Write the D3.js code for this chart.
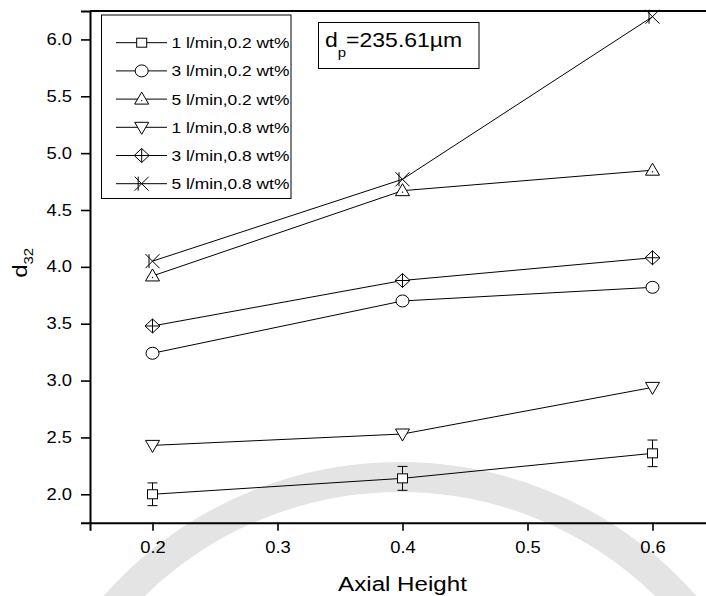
<!DOCTYPE html>
<html>
<head>
<meta charset="utf-8">
<script src="https://cdn.jsdelivr.net/npm/d3@7"></script>
<style>
  html, body { margin: 0; padding: 0; background: #fff; }
  svg { display: block; }
  text { font-family: "Liberation Sans", Arial, sans-serif; fill: #000; }
</style>
</head>
<body>
<svg id="chart" width="706" height="596"></svg>
<script>
// Sauter mean diameter d32 against axial height, particle size 235.61 µm
const axialHeights = [0.2, 0.4, 0.6];
const seriesLabels = [
  "1 l/min,0.2 wt%", "3 l/min,0.2 wt%", "5 l/min,0.2 wt%",
  "1 l/min,0.8 wt%", "3 l/min,0.8 wt%", "5 l/min,0.8 wt%"
];
const d32_1lpm_02 = [2.00, 2.14, 2.36];
const err_1lpm_02 = [0.10, 0.105, 0.117];
const d32_3lpm_02 = [3.24, 3.70, 3.82];
const d32_5lpm_02 = [3.92, 4.67, 4.85];
const d32_1lpm_08 = [2.43, 2.53, 2.94];
const d32_3lpm_08 = [3.48, 3.88, 4.08];
const d32_5lpm_08 = [4.05, 4.77, 6.20];
const xTicks = [0.2, 0.3, 0.4, 0.5, 0.6];
const xMinorTicks = [0.15, 0.25, 0.35, 0.45, 0.55, 0.65];
const yTicks = [2.0, 2.5, 3.0, 3.5, 4.0, 4.5, 5.0, 5.5, 6.0];
const yMinorTicks = [2.25, 2.75, 3.25, 3.75, 4.25, 4.75, 5.25, 5.75];

const seriesValues = [d32_1lpm_02, d32_3lpm_02, d32_5lpm_02, d32_1lpm_08, d32_3lpm_08, d32_5lpm_08];
const seriesSymbols = ["square", "circle", "up", "down", "diamond", "cross"];

const svg = d3.select("#chart");
const stretch = 1.15; // glyphs in this figure are slightly wide

const x = d3.scaleLinear().domain([0.15, 0.65]).range([90, 715]);
const y = d3.scaleLinear().domain([1.75, 6.25]).range([522.7, 11]);

// faint emblem arc in the background
svg.append("circle")
  .attr("cx", 400).attr("cy", 857).attr("r", 380)
  .attr("fill", "none").attr("stroke", "#e4e4e4").attr("stroke-width", 30);

// axes
const gx = svg.append("g").attr("transform", `translate(0,${y.range()[0]})`);
gx.call(d3.axisBottom(x).tickValues(xMinorTicks).tickSize(5).tickFormat(""));
gx.call(d3.axisBottom(x).tickValues(xTicks).tickSize(8).tickPadding(11).tickFormat(d3.format(".1f")));
const gy = svg.append("g").attr("transform", `translate(${x.range()[0]},0)`);
gy.call(d3.axisLeft(y).tickValues(yMinorTicks).tickSize(5).tickFormat(""));
gy.call(d3.axisLeft(y).tickValues(yTicks).tickSize(9).tickPadding(9).tickFormat(d3.format(".1f")));
[gx, gy].forEach(g => {
  g.selectAll(".domain").attr("stroke-width", 2).attr("stroke", "#000");
  g.selectAll(".tick line").attr("stroke-width", 1.6).attr("stroke", "#000");
  g.selectAll(".tick text").attr("font-size", 16).attr("fill", "#000")
    .style("font-family", '"Liberation Sans", Arial, sans-serif');
});
gx.selectAll(".tick text").attr("transform", `scale(${stretch},1)`);
gy.selectAll(".tick text").each(function () {
  const t = d3.select(this);
  t.attr("x", +t.attr("x") / stretch).attr("transform", `scale(${stretch},1)`);
});
// top frame line
svg.append("line")
  .attr("x1", x.range()[0]).attr("x2", x.range()[1])
  .attr("y1", y.range()[1]).attr("y2", y.range()[1])
  .attr("stroke", "#000").attr("stroke-width", 2);

// axis titles
svg.append("text")
  .attr("transform", `translate(${(x.range()[0] + x.range()[1]) / 2},591) scale(${stretch},1)`)
  .attr("text-anchor", "middle").attr("font-size", 21).text("Axial Height");
const yTitle = svg.append("text")
  .attr("transform", `translate(27,${(y.range()[0] + y.range()[1]) / 2 - 4}) rotate(-90) scale(${stretch},1)`)
  .attr("text-anchor", "middle").attr("font-size", 21);
yTitle.append("tspan").text("d");
yTitle.append("tspan").attr("font-size", 13).attr("dy", 6).text("32");

// marker shapes
function marker(g, type, cx, cy) {
  const common = s => s.attr("fill", "#fff").attr("stroke", "#000").attr("stroke-width", 1);
  if (type === "square") {
    common(g.append("rect").attr("x", cx - 5).attr("y", cy - 4.5).attr("width", 10).attr("height", 9));
  } else if (type === "circle") {
    common(g.append("ellipse").attr("cx", cx).attr("cy", cy).attr("rx", 6.5).attr("ry", 6));
  } else if (type === "up") {
    common(g.append("path").attr("d", `M${cx - 7},${cy + 5}L${cx + 7},${cy + 5}L${cx},${cy - 7}Z`));
    g.append("circle").attr("cx", cx).attr("cy", cy + 1.5).attr("r", 0.7).attr("fill", "#000");
  } else if (type === "down") {
    common(g.append("path").attr("d", `M${cx - 7},${cy - 5}L${cx + 7},${cy - 5}L${cx},${cy + 7}Z`));
  } else if (type === "diamond") {
    common(g.append("path").attr("d", `M${cx},${cy - 7}L${cx + 7.5},${cy}L${cx},${cy + 7}L${cx - 7.5},${cy}Z`));
    g.append("path").attr("d", `M${cx - 7.5},${cy}H${cx + 7.5}M${cx},${cy - 7}V${cy + 7}`)
      .attr("stroke", "#000").attr("stroke-width", 1).attr("fill", "none");
  } else if (type === "cross") {
    g.append("path")
      .attr("d", `M${cx - 7},${cy - 7}L${cx + 7},${cy + 7}M${cx + 7},${cy - 7}L${cx - 7},${cy + 7}M${cx - 3.5},${cy - 7}V${cy + 7}`)
      .attr("stroke", "#000").attr("stroke-width", 1).attr("fill", "none");
  }
}

const plot = svg.append("g");
const line = d3.line().x((d, i) => x(axialHeights[i])).y(d => y(d));
seriesValues.forEach(vals => {
  plot.append("path").attr("d", line(vals))
    .attr("fill", "none").attr("stroke", "#000").attr("stroke-width", 1);
});
// error bars on the 1 l/min, 0.2 wt% series
d32_1lpm_02.forEach((v, i) => {
  const cx = x(axialHeights[i]);
  const lo = y(v - err_1lpm_02[i]), hi = y(v + err_1lpm_02[i]);
  plot.append("path")
    .attr("d", `M${cx},${lo}V${hi}M${cx - 5},${lo}H${cx + 5}M${cx - 5},${hi}H${cx + 5}`)
    .attr("stroke", "#000").attr("stroke-width", 1).attr("fill", "none");
});
seriesValues.forEach((vals, s) => {
  vals.forEach((v, i) => marker(plot, seriesSymbols[s], x(axialHeights[i]), y(v)));
});

// legend
const legend = svg.append("g");
legend.append("rect").attr("x", 101.5).attr("y", 15).attr("width", 189.5).attr("height", 183.5)
  .attr("fill", "#fff").attr("stroke", "#000").attr("stroke-width", 1);
seriesLabels.forEach((label, s) => {
  const ry = 42.7 + s * 28.2;
  legend.append("line").attr("x1", 116).attr("x2", 167).attr("y1", ry).attr("y2", ry)
    .attr("stroke", "#000").attr("stroke-width", 1);
  marker(legend, seriesSymbols[s], 141.7, ry);
  legend.append("text")
    .attr("transform", `translate(171.5,${ry + 5.5}) scale(1.16,1)`)
    .attr("font-size", 15).text(label);
});

// particle size note
svg.append("rect").attr("x", 318.5).attr("y", 22.5).attr("width", 160.5).attr("height", 46)
  .attr("fill", "#fff").attr("stroke", "#000").attr("stroke-width", 1);
const note = svg.append("text")
  .attr("transform", `translate(325,46.7) scale(${stretch},1)`).attr("font-size", 20);
note.append("tspan").text("d");
note.append("tspan").attr("font-size", 13).attr("dy", 10).text("p");
note.append("tspan").attr("dy", -10).text("=235.61\u00b5m");
</script>
</body>
</html>
